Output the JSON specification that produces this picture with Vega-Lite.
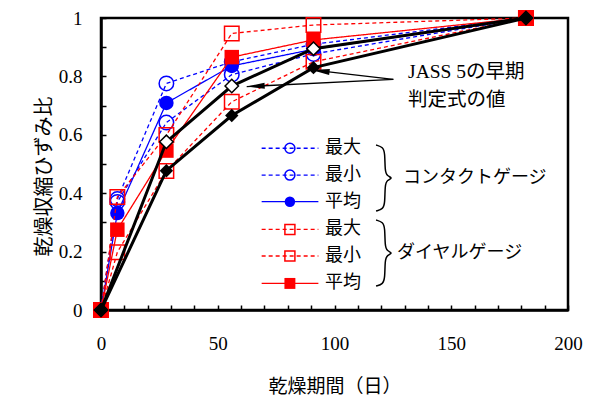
{
  "$schema": "https://vega.github.io/schema/vega-lite/v6.json",
  "width": 467,
  "height": 292,
  "autosize": {"type": "none"},
  "padding": {"left": 101, "top": 18, "right": 30, "bottom": 89},
  "background": "white",
  "config": {
    "view": {"stroke": "black", "strokeWidth": 2.5},
    "font": "Liberation Serif"
  },
  "datasets": {
    "meas": [
      {"g": "コンタクトゲージ", "s": "最大", "day": 0, "ratio": 0},
      {"g": "コンタクトゲージ", "s": "最大", "day": 7, "ratio": 0.38},
      {"g": "コンタクトゲージ", "s": "最大", "day": 28, "ratio": 0.776},
      {"g": "コンタクトゲージ", "s": "最大", "day": 56, "ratio": 0.85},
      {"g": "コンタクトゲージ", "s": "最大", "day": 91, "ratio": 0.91},
      {"g": "コンタクトゲージ", "s": "最大", "day": 182, "ratio": 1},
      {"g": "コンタクトゲージ", "s": "最小", "day": 0, "ratio": 0},
      {"g": "コンタクトゲージ", "s": "最小", "day": 7, "ratio": 0.37},
      {"g": "コンタクトゲージ", "s": "最小", "day": 28, "ratio": 0.642},
      {"g": "コンタクトゲージ", "s": "最小", "day": 56, "ratio": 0.806},
      {"g": "コンタクトゲージ", "s": "最小", "day": 91, "ratio": 0.877},
      {"g": "コンタクトゲージ", "s": "最小", "day": 182, "ratio": 1},
      {"g": "コンタクトゲージ", "s": "平均", "day": 0, "ratio": 0},
      {"g": "コンタクトゲージ", "s": "平均", "day": 7, "ratio": 0.332},
      {"g": "コンタクトゲージ", "s": "平均", "day": 28, "ratio": 0.709},
      {"g": "コンタクトゲージ", "s": "平均", "day": 56, "ratio": 0.836},
      {"g": "コンタクトゲージ", "s": "平均", "day": 91, "ratio": 0.893},
      {"g": "コンタクトゲージ", "s": "平均", "day": 182, "ratio": 1},
      {"g": "ダイヤルゲージ", "s": "最大", "day": 0, "ratio": 0},
      {"g": "ダイヤルゲージ", "s": "最大", "day": 7, "ratio": 0.387},
      {"g": "ダイヤルゲージ", "s": "最大", "day": 28, "ratio": 0.599},
      {"g": "ダイヤルゲージ", "s": "最大", "day": 56, "ratio": 0.947},
      {"g": "ダイヤルゲージ", "s": "最大", "day": 91, "ratio": 0.976},
      {"g": "ダイヤルゲージ", "s": "最大", "day": 182, "ratio": 1},
      {"g": "ダイヤルゲージ", "s": "最小", "day": 0, "ratio": 0},
      {"g": "ダイヤルゲージ", "s": "最小", "day": 7, "ratio": 0.198},
      {"g": "ダイヤルゲージ", "s": "最小", "day": 28, "ratio": 0.476},
      {"g": "ダイヤルゲージ", "s": "最小", "day": 56, "ratio": 0.713},
      {"g": "ダイヤルゲージ", "s": "最小", "day": 91, "ratio": 0.85},
      {"g": "ダイヤルゲージ", "s": "最小", "day": 182, "ratio": 1},
      {"g": "ダイヤルゲージ", "s": "平均", "day": 0, "ratio": 0},
      {"g": "ダイヤルゲージ", "s": "平均", "day": 7, "ratio": 0.275},
      {"g": "ダイヤルゲージ", "s": "平均", "day": 28, "ratio": 0.546},
      {"g": "ダイヤルゲージ", "s": "平均", "day": 56, "ratio": 0.866},
      {"g": "ダイヤルゲージ", "s": "平均", "day": 91, "ratio": 0.925},
      {"g": "ダイヤルゲージ", "s": "平均", "day": 182, "ratio": 1}
    ],
    "jass": [
      {"s": "open", "day": 0, "ratio": 0},
      {"s": "open", "day": 28, "ratio": 0.576},
      {"s": "open", "day": 56, "ratio": 0.767},
      {"s": "open", "day": 91, "ratio": 0.895},
      {"s": "open", "day": 182, "ratio": 1},
      {"s": "filled", "day": 0, "ratio": 0},
      {"s": "filled", "day": 28, "ratio": 0.477},
      {"s": "filled", "day": 56, "ratio": 0.666},
      {"s": "filled", "day": 91, "ratio": 0.83},
      {"s": "filled", "day": 182, "ratio": 1}
    ],
    "arrows": [
      {"a": 1, "day": 125.2, "ratio": 0.79, "day2": 90.2, "ratio2": 0.822},
      {"a": 2, "day": 125.2, "ratio": 0.79, "day2": 62.4, "ratio2": 0.765}
    ],
    "note": [
      {"t": "JASS 5の早期", "day": 131.5, "ratio": 0.815},
      {"t": "判定式の値", "day": 131.5, "ratio": 0.719}
    ],
    "leg": [
      {"g": "コンタクトゲージ", "s": "最大", "day": 68.8, "ratio": 0.554},
      {"g": "コンタクトゲージ", "s": "最大", "day": 93.1, "ratio": 0.554},
      {"g": "コンタクトゲージ", "s": "最小", "day": 68.8, "ratio": 0.462},
      {"g": "コンタクトゲージ", "s": "最小", "day": 93.1, "ratio": 0.462},
      {"g": "コンタクトゲージ", "s": "平均", "day": 68.8, "ratio": 0.371},
      {"g": "コンタクトゲージ", "s": "平均", "day": 93.1, "ratio": 0.371},
      {"g": "ダイヤルゲージ", "s": "最大", "day": 68.8, "ratio": 0.276},
      {"g": "ダイヤルゲージ", "s": "最大", "day": 93.1, "ratio": 0.276},
      {"g": "ダイヤルゲージ", "s": "最小", "day": 68.8, "ratio": 0.185},
      {"g": "ダイヤルゲージ", "s": "最小", "day": 93.1, "ratio": 0.185},
      {"g": "ダイヤルゲージ", "s": "平均", "day": 68.8, "ratio": 0.091},
      {"g": "ダイヤルゲージ", "s": "平均", "day": 93.1, "ratio": 0.091}
    ],
    "legpt": [
      {"g": "コンタクトゲージ", "s": "最大", "day": 80.9, "ratio": 0.554, "tx": 95.9},
      {"g": "コンタクトゲージ", "s": "最小", "day": 80.9, "ratio": 0.462, "tx": 95.9},
      {"g": "コンタクトゲージ", "s": "平均", "day": 80.9, "ratio": 0.371, "tx": 95.9},
      {"g": "ダイヤルゲージ", "s": "最大", "day": 80.9, "ratio": 0.276, "tx": 95.9},
      {"g": "ダイヤルゲージ", "s": "最小", "day": 80.9, "ratio": 0.185, "tx": 95.9},
      {"g": "ダイヤルゲージ", "s": "平均", "day": 80.9, "ratio": 0.091, "tx": 95.9}
    ],
    "brace": [
      {"b": 1, "k": 1, "day": 117.8, "ratio": 0.565},
      {"b": 1, "k": 2, "day": 120.8, "ratio": 0.558},
      {"b": 1, "k": 3, "day": 121.6, "ratio": 0.538},
      {"b": 1, "k": 4, "day": 121.6, "ratio": 0.476},
      {"b": 1, "k": 5, "day": 122.5, "ratio": 0.459},
      {"b": 1, "k": 6, "day": 125.1, "ratio": 0.452},
      {"b": 1, "k": 7, "day": 122.5, "ratio": 0.445},
      {"b": 1, "k": 8, "day": 121.6, "ratio": 0.428},
      {"b": 1, "k": 9, "day": 121.6, "ratio": 0.366},
      {"b": 1, "k": 10, "day": 120.8, "ratio": 0.346},
      {"b": 1, "k": 11, "day": 117.8, "ratio": 0.339},
      {"b": 2, "k": 1, "day": 117.8, "ratio": 0.308},
      {"b": 2, "k": 2, "day": 120.8, "ratio": 0.301},
      {"b": 2, "k": 3, "day": 121.6, "ratio": 0.281},
      {"b": 2, "k": 4, "day": 121.6, "ratio": 0.219},
      {"b": 2, "k": 5, "day": 122.5, "ratio": 0.202},
      {"b": 2, "k": 6, "day": 125.1, "ratio": 0.195},
      {"b": 2, "k": 7, "day": 122.5, "ratio": 0.188},
      {"b": 2, "k": 8, "day": 121.6, "ratio": 0.171},
      {"b": 2, "k": 9, "day": 121.6, "ratio": 0.11},
      {"b": 2, "k": 10, "day": 120.8, "ratio": 0.089},
      {"b": 2, "k": 11, "day": 117.8, "ratio": 0.082}
    ],
    "group": [
      {"t": "コンタクトゲージ", "day": 129.3, "ratio": 0.452},
      {"t": "ダイヤルゲージ", "day": 126.8, "ratio": 0.195}
    ]
  },
  "encoding": {
    "x": {
      "field": "day", "type": "quantitative",
      "scale": {"domain": [0, 200], "nice": false, "zero": false},
      "axis": {
        "title": "乾燥期間（日）",
        "titleFont": "Noto Sans CJK JP", "titleFontSize": 19, "titleFontWeight": "normal", "titleColor": "black",
        "titlePadding": 24,
        "values": [0,10,20,30,40,50,60,70,80,90,100,110,120,130,140,150,160,170,180,190,200],
        "labelExpr": "datum.value % 50 === 0 ? datum.label : ''",
        "labelFont": "Liberation Serif", "labelFontSize": 19, "labelColor": "black",
        "labelPadding": 29, "labelFlush": false, "labelOverlap": false,
        "tickSize": -5, "tickWidth": 1.5, "tickColor": "black",
        "domainColor": "black", "domainWidth": 2.5, "grid": false
      }
    },
    "y": {
      "field": "ratio", "type": "quantitative",
      "scale": {"domain": [0, 1], "nice": false},
      "axis": {
        "title": "乾燥収縮ひずみ比",
        "titleFont": "Noto Sans CJK JP", "titleFontSize": 20, "titleFontWeight": "normal", "titleColor": "black",
        "titlePadding": 4,
        "titleY": 158,
        "values": [0,0.1,0.2,0.3,0.4,0.5,0.6,0.7,0.8,0.9,1],
        "format": "~g",
        "labelExpr": "abs(datum.value*5 - round(datum.value*5)) < 0.001 ? datum.label : ''",
        "labelFont": "Liberation Serif", "labelFontSize": 19, "labelColor": "black",
        "labelPadding": 24, "labelFlush": false, "labelOverlap": false,
        "tickSize": -5, "tickWidth": 1.5, "tickColor": "black",
        "domainColor": "black", "domainWidth": 2.5, "grid": false
      }
    }
  },
  "layer": [
    {
      "data": {"name": "meas"},
      "transform": [{"filter": "datum.g === 'コンタクトゲージ'"}],
      "mark": {"type": "line", "color": "#0000FF", "strokeWidth": 1.3},
      "encoding": {
        "detail": {"field": "s"},
        "strokeDash": {"field": "s", "type": "nominal", "scale": {"domain": ["最大", "最小", "平均"], "range": [[4, 3], [4, 3], [1, 0]]}, "legend": null}
      }
    },
    {
      "data": {"name": "meas"},
      "transform": [{"filter": "datum.g === 'コンタクトゲージ' && datum.s !== '平均'"}],
      "mark": {"type": "point", "shape": "circle", "filled": false, "color": "#0000FF", "strokeWidth": 1.5, "size": 210, "opacity": 1}
    },
    {
      "data": {"name": "meas"},
      "transform": [{"filter": "datum.g === 'コンタクトゲージ' && datum.s === '平均'"}],
      "mark": {"type": "point", "shape": "circle", "filled": true, "color": "#0000FF", "size": 210, "opacity": 1}
    },
    {
      "data": {"name": "meas"},
      "transform": [{"filter": "datum.g === 'ダイヤルゲージ'"}],
      "mark": {"type": "line", "color": "#FF0000", "strokeWidth": 1.3},
      "encoding": {
        "detail": {"field": "s"},
        "strokeDash": {"field": "s", "type": "nominal", "legend": null}
      }
    },
    {
      "data": {"name": "meas"},
      "transform": [{"filter": "datum.g === 'ダイヤルゲージ' && datum.s !== '平均'"}],
      "mark": {"type": "point", "shape": "square", "filled": false, "color": "#FF0000", "strokeWidth": 1.5, "size": 210, "opacity": 1}
    },
    {
      "data": {"name": "meas"},
      "transform": [{"filter": "datum.g === 'ダイヤルゲージ' && datum.s === '平均'"}],
      "mark": {"type": "point", "shape": "square", "filled": true, "color": "#FF0000", "size": 210, "opacity": 1}
    },
    {
      "data": {"name": "jass"},
      "mark": {"type": "line", "color": "black", "strokeWidth": 3},
      "encoding": {"detail": {"field": "s"}}
    },
    {
      "data": {"name": "jass"},
      "transform": [{"filter": "datum.s === 'open'"}],
      "mark": {"type": "point", "shape": "diamond", "filled": true, "fill": "white", "stroke": "black", "strokeWidth": 1.5, "size": 180, "opacity": 1}
    },
    {
      "data": {"name": "jass"},
      "transform": [{"filter": "datum.s === 'filled'"}],
      "mark": {"type": "point", "shape": "diamond", "filled": true, "color": "black", "size": 180, "opacity": 1}
    },
    {
      "data": {"name": "arrows"},
      "mark": {"type": "rule", "color": "black", "strokeWidth": 1.3},
      "encoding": {
        "x2": {"field": "day2"},
        "y2": {"field": "ratio2"}
      }
    },
    {
      "data": {"name": "arrows"},
      "transform": [{"filter": "datum.a === 1"}],
      "mark": {"type": "point", "shape": "M0,0L-1,-0.17L-1,0.17Z", "filled": true, "color": "black", "size": 1296, "angle": 186.5, "opacity": 1},
      "encoding": {
        "x": {"field": "day2", "type": "quantitative"},
        "y": {"field": "ratio2", "type": "quantitative"}
      }
    },
    {
      "data": {"name": "arrows"},
      "transform": [{"filter": "datum.a === 2"}],
      "mark": {"type": "point", "shape": "M0,0L-1,-0.17L-1,0.17Z", "filled": true, "color": "black", "size": 1296, "angle": 177.1, "opacity": 1},
      "encoding": {
        "x": {"field": "day2", "type": "quantitative"},
        "y": {"field": "ratio2", "type": "quantitative"}
      }
    },
    {
      "data": {"name": "note"},
      "mark": {"type": "text", "align": "left", "baseline": "middle", "font": "'Liberation Serif', 'Noto Sans CJK JP'", "fontSize": 19.5, "color": "black"},
      "encoding": {"text": {"field": "t"}}
    },
    {
      "data": {"name": "leg"},
      "mark": {"type": "line", "strokeWidth": 1.3},
      "encoding": {
        "detail": {"field": "g"},
        "color": {"field": "g", "type": "nominal", "scale": {"domain": ["コンタクトゲージ", "ダイヤルゲージ"], "range": ["#0000FF", "#FF0000"]}, "legend": null},
        "strokeDash": {"field": "s", "type": "nominal", "legend": null}
      }
    },
    {
      "data": {"name": "legpt"},
      "transform": [{"filter": "datum.g === 'コンタクトゲージ' && datum.s !== '平均'"}],
      "mark": {"type": "point", "shape": "circle", "filled": false, "color": "#0000FF", "strokeWidth": 1.5, "size": 100, "opacity": 1}
    },
    {
      "data": {"name": "legpt"},
      "transform": [{"filter": "datum.g === 'コンタクトゲージ' && datum.s === '平均'"}],
      "mark": {"type": "point", "shape": "circle", "filled": true, "color": "#0000FF", "size": 110, "opacity": 1}
    },
    {
      "data": {"name": "legpt"},
      "transform": [{"filter": "datum.g === 'ダイヤルゲージ' && datum.s !== '平均'"}],
      "mark": {"type": "point", "shape": "square", "filled": false, "color": "#FF0000", "strokeWidth": 1.5, "size": 100, "opacity": 1}
    },
    {
      "data": {"name": "legpt"},
      "transform": [{"filter": "datum.g === 'ダイヤルゲージ' && datum.s === '平均'"}],
      "mark": {"type": "point", "shape": "square", "filled": true, "color": "#FF0000", "size": 120, "opacity": 1}
    },
    {
      "data": {"name": "legpt"},
      "mark": {"type": "text", "align": "left", "baseline": "middle", "font": "Noto Sans CJK JP", "fontSize": 18, "color": "black"},
      "encoding": {
        "x": {"field": "tx", "type": "quantitative"},
        "text": {"field": "s"}
      }
    },
    {
      "data": {"name": "brace"},
      "mark": {"type": "line", "color": "black", "strokeWidth": 1.5, "interpolate": "basis"},
      "encoding": {
        "detail": {"field": "b"},
        "order": {"field": "k", "type": "quantitative"}
      }
    },
    {
      "data": {"name": "group"},
      "mark": {"type": "text", "align": "left", "baseline": "middle", "font": "Noto Sans CJK JP", "fontSize": 18, "color": "black"},
      "encoding": {"text": {"field": "t"}}
    }
  ]
}
